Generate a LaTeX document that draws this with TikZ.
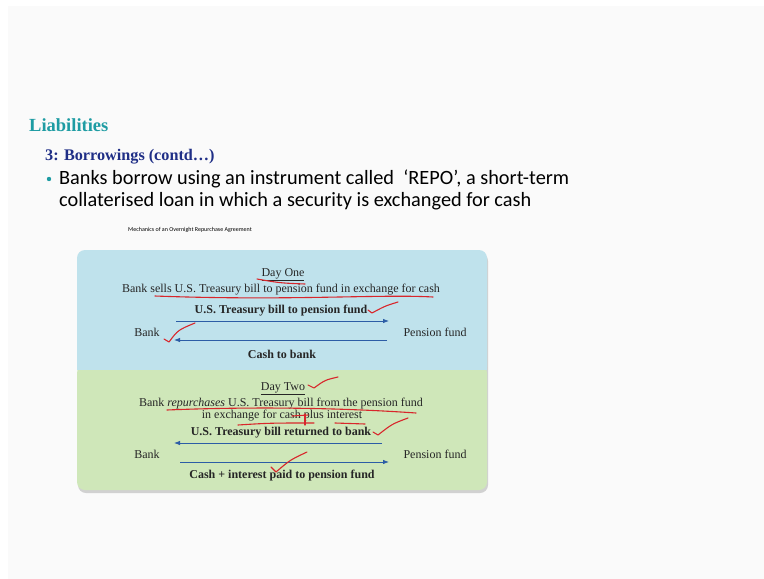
\documentclass[tikz,border=0pt]{standalone}
\usepackage{fontspec}
\setmainfont{Liberation Serif}
\newfontfamily\slidefont{Carlito}
\newfontfamily\headfont{Liberation Serif}
\usetikzlibrary{arrows.meta,positioning}
\definecolor{slideteal}{HTML}{1E9CA3}
\definecolor{slidenavy}{HTML}{1F2E86}
\definecolor{dayone}{HTML}{BFE2EC}
\definecolor{daytwo}{HTML}{CFE7B9}
\definecolor{flowblue}{HTML}{2C5DA6}
\definecolor{penred}{HTML}{D8262B}

\begin{document}
\begin{tikzpicture}[x=1pt,y=-1pt,
    flow/.style={flowblue,line width=0.8pt,-{Latex[length=6pt,width=4.5pt]}},
    pen/.style={penred,line width=1.1pt,line cap=round,line join=round},
    txt/.style={font=\fontsize{12}{14}\selectfont,inner sep=0pt,text=black!85,yshift=-1.5pt},
    boldtxt/.style={font=\fontsize{12}{14}\selectfont\bfseries,inner sep=0pt,text=black!85,yshift=-1.5pt}]
        \useasboundingbox (0,0) rectangle (764,579);
        \fill [white] (0,0) rectangle (764,579);
        \fill [black!2] (8,6) rectangle (764,579);
        % slide heading
        \node [anchor=west,inner sep=0pt,slideteal,font=\headfont\fontsize{18.5}{20}\selectfont\bfseries] (head) at (29,125) {Liabilities};
        \node [anchor=west,inner sep=0pt,slidenavy,font=\headfont\fontsize{16.2}{18}\selectfont\bfseries] (sub) at (45,157) {3: Borrowings (contd\ldots)};
        \fill [slideteal] (49,179) circle (2.2);
        \node [anchor=west,inner sep=0pt,align=left,font=\slidefont\fontsize{20.3}{22}\selectfont] (bullet) at (59,190)
            {Banks borrow using an instrument called \ ‘REPO’, a short-term\\collaterised loan in which a security is exchanged for cash};
        \node [anchor=west,inner sep=0pt,font=\slidefont\fontsize{6}{7}\selectfont] (caption) at (128,230) {Mechanics of an Overnight Repurchase Agreement};
        % the two panels
        \fill [black!18, rounded corners=8pt] (78,253) rectangle (488,493);
        \fill [dayone, rounded corners=8pt] (77,250) rectangle (487,375);
        \fill [daytwo, rounded corners=8pt] (77,365) rectangle (487,490);
        \fill [dayone] (77,360) rectangle (487,370);
        % day one
        \node [txt] (d1) at (283,273) {\underline{Day One}};
        \node [txt] (d1text) at (281,288) {Bank sells U.S. Treasury bill to pension fund in exchange for cash};
        \node [boldtxt] (d1top) at (281,309) {U.S. Treasury bill to pension fund};
        \node [txt] (bank1) at (147,331) {Bank};
        \node [txt] (pension1) at (435,331) {Pension fund};
        \node [boldtxt] (d1bot) at (282,353) {Cash to bank};
        \coordinate (a1s) at (176,321);
        \coordinate (a1e) at (389,321);
        \coordinate (b1s) at (387,340);
        \coordinate (b1e) at (174,340);
        \draw [flow] (a1s) -- (a1e);
        \draw [flow] (b1s) -- (b1e);
        % day two
        \node [txt] (d2) at (283,387) {\underline{Day Two}};
        \node [txt] (d2text) at (281,402) {Bank \textit{repurchases} U.S. Treasury bill from the pension fund};
        \node [txt] (d2more) at (282,414) {in exchange for cash plus interest};
        \node [boldtxt] (d2top) at (281,431) {U.S. Treasury bill returned to bank};
        \node [txt] (bank2) at (147,453) {Bank};
        \node [txt] (pension2) at (435,453) {Pension fund};
        \node [boldtxt] (d2bot) at (282,474) {Cash + interest paid to pension fund};
        \coordinate (a2s) at (382,443);
        \coordinate (a2e) at (174,443);
        \coordinate (b2s) at (180,462);
        \coordinate (b2e) at (389,462);
        \draw [flow] (a2s) -- (a2e);
        \draw [flow] (b2s) -- (b2e);
        % pen marks
        \draw [pen] (257,279) .. controls (280,283) .. (305,284);
        \draw [pen] (155,296) .. controls (290,301) and (380,294) .. (433,297);
        \draw [pen] (368,310) -- (372,313) .. controls (385,306) .. (398,302);
        \draw [pen] (164,339) -- (169,342) .. controls (178,330) .. (195,323);
        \draw [pen] (308,385) -- (314,388) .. controls (325,380) .. (338,377);
        \draw [pen] (167,410) .. controls (240,407) and (330,407) .. (416,413);
        \draw [pen] (238,425) .. controls (270,423) .. (314,423);
        \draw [pen] (335,423) -- (365,424);
        \draw [pen] (305,414) -- (305,425);
        \draw [pen] (292,416) -- (308,415);
        \draw [pen] (373,432) -- (378,435) .. controls (392,424) .. (408,418);
        \draw [pen] (271,467) -- (276,472) .. controls (290,460) .. (307,452);
        \end{tikzpicture}
\end{document}
